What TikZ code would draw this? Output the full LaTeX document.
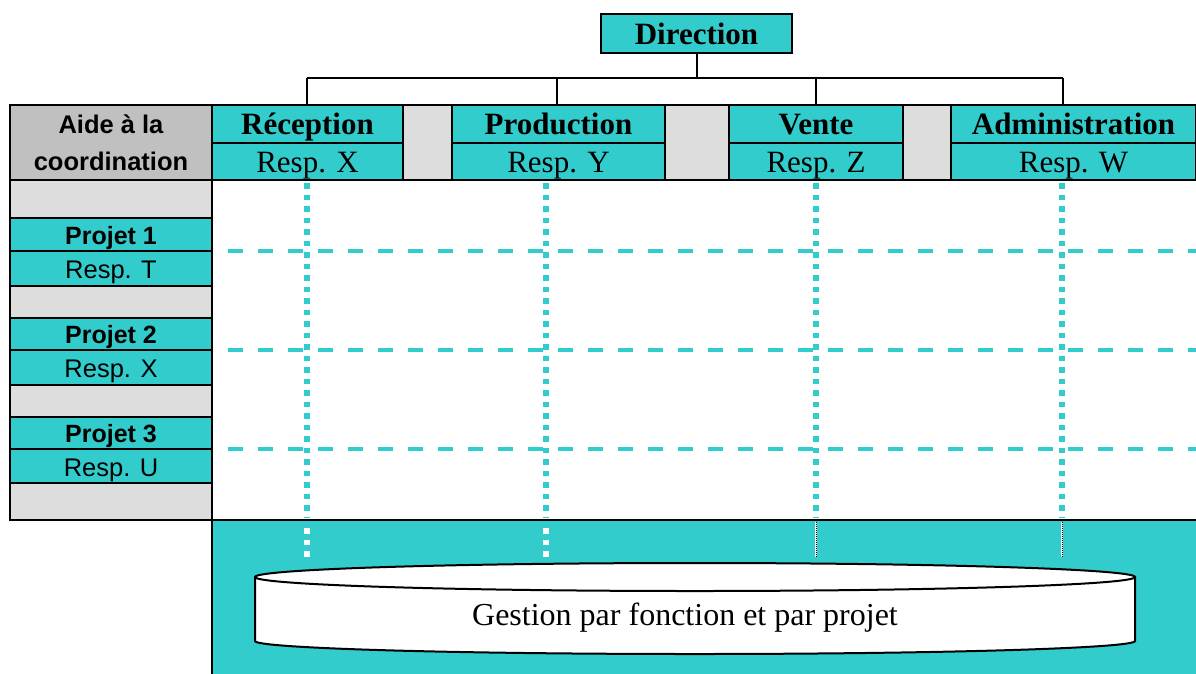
\documentclass[tikz,border=0pt]{standalone}
\usepackage{fontspec}
\setmainfont{Liberation Serif}
\newfontfamily\arialf{Liberation Sans}
\newcommand\fhd{\fontsize{31}{37}\selectfont\bfseries}
\newcommand\frs{\fontsize{31}{37}\selectfont}
\newcommand\fgest{\fontsize{32}{37}\selectfont}
\newcommand\fpj{\arialf\fontsize{25}{28}\selectfont\bfseries}
\newcommand\fpr{\arialf\fontsize{25.5}{28}\selectfont}
\newcommand\faide{\arialf\bfseries\fontsize{25.5}{37}\selectfont}
\definecolor{tealc}{HTML}{33CCCC}
\definecolor{grayc}{HTML}{C0C0C0}
\definecolor{lgrayc}{HTML}{DDDDDD}
\tikzset{
  cellbase/.style={draw=black, line width=2.5pt, inner sep=0pt, outer sep=0pt, anchor=north west},
  tealcell/.style={cellbase, fill=tealc},
  hdcell/.style={tealcell, text height=21pt, text depth=0pt},
  pjcell/.style={tealcell, text height=19pt, text depth=0pt},
  prcell/.style={tealcell, text height=20pt, text depth=0pt},
  graycell/.style={cellbase, fill=grayc},
  lgraycell/.style={cellbase, fill=lgrayc},
  treeline/.style={draw=black, line width=2pt},
  dashline/.style={draw=tealc, line width=4pt, dash pattern=on 15pt off 15pt},
  dotline/.style={draw=tealc, line width=6.5pt, dash pattern=on 5.5pt off 6pt},
  wdotline/.style={draw=white, line width=6.5pt, dash pattern=on 5.5pt off 6pt},
  bdotline/.style={draw=black, line width=1pt, dash pattern=on 1pt off 1pt},
}
\begin{document}
\begin{tikzpicture}[x=1pt,y=-1pt]
\useasboundingbox (0,0) rectangle (1196,673);
% Direction
\node[hdcell, minimum width=191pt, minimum height=39pt] (dir) at (601,14) {\fhd Direction};
% header row
\node[graycell, minimum width=202pt, minimum height=75pt, align=center, font=\faide] (aide) at (10,105) {Aide à la\\coordination};
\node[hdcell, minimum width=191pt, minimum height=38pt] (rec) at (212,105) {\fhd Réception};
\node[hdcell, minimum width=191pt, minimum height=37pt] (recr) at (212,143) {\frs Resp. X};
\node[lgraycell, minimum width=49pt, minimum height=75pt] (g1) at (403,105) {};
\node[hdcell, minimum width=213pt, minimum height=38pt] (pro) at (452,105) {\fhd Production};
\node[hdcell, minimum width=213pt, minimum height=37pt] (pror) at (452,143) {\frs Resp. Y};
\node[lgraycell, minimum width=64pt, minimum height=75pt] (g2) at (665,105) {};
\node[hdcell, minimum width=174pt, minimum height=38pt] (ven) at (729,105) {\fhd Vente};
\node[hdcell, minimum width=174pt, minimum height=37pt] (venr) at (729,143) {\frs Resp. Z};
\node[lgraycell, minimum width=48pt, minimum height=75pt] (g3) at (903,105) {};
\node[hdcell, minimum width=245pt, minimum height=38pt] (adm) at (951,105) {\fhd Administration};
\node[hdcell, minimum width=245pt, minimum height=37pt] (admr) at (951,143) {\frs Resp. W};
\draw[draw=black, line width=2.5pt] (1196,105) -- (1200,105) (1196,180) -- (1200,180);
% tree
\coordinate (hl) at (307,78);
\coordinate (hr) at (1063,78);
\coordinate (hm) at (dir.south |- hl);
\draw[treeline] (dir.south) -- (hm);
\draw[treeline] (hl) -- (hr);
\draw[treeline] (hl) -- (307,105);
\draw[treeline] (557,78) -- (557,105);
\draw[treeline] (816,78) -- (816,105);
\draw[treeline] (hr) -- (1063,105);
% left column
\node[lgraycell, minimum width=202pt, minimum height=38pt] (l0) at (10,180) {};
\node[pjcell, minimum width=202pt, minimum height=33pt] (p1) at (10,218) {\fpj Projet 1};
\node[prcell, minimum width=202pt, minimum height=35pt] (r1) at (10,251) {\fpr Resp. T};
\node[lgraycell, minimum width=202pt, minimum height=32pt] (l1) at (10,286) {};
\node[pjcell, minimum width=202pt, minimum height=32pt] (p2) at (10,318) {\fpj Projet 2};
\node[prcell, minimum width=202pt, minimum height=35pt] (r2) at (10,350) {\fpr Resp. X};
\node[lgraycell, minimum width=202pt, minimum height=32pt] (l2) at (10,385) {};
\node[pjcell, minimum width=202pt, minimum height=32pt] (p3) at (10,417) {\fpj Projet 3};
\node[prcell, minimum width=202pt, minimum height=34pt] (r3) at (10,449) {\fpr Resp. U};
\node[lgraycell, minimum width=202pt, minimum height=37pt] (l3) at (10,483) {};
% grid lines
\draw[dashline] (228,251) -- (1200,251);
\draw[dashline] (228,350) -- (1200,350);
\draw[dashline] (228,449) -- (1200,449);
\draw[dotline] (307,183) -- (307,518);
\draw[dotline] (546,183) -- (546,518);
\draw[dotline] (816,183) -- (816,518);
\draw[dotline] (1062,183) -- (1062,518);
% bottom region
\node[tealcell, minimum width=990pt, minimum height=160pt] (bot) at (212,520) {};
\draw[wdotline] (307,528) -- (307,557);
\draw[wdotline] (546,528) -- (546,557);
\draw[draw=white, line width=1.5pt] (816,522) -- (816,557) (1062,522) -- (1062,557);
\draw[bdotline] (816,522) -- (816,557);
\draw[bdotline] (1062,522) -- (1062,557);
% cylinder
\draw[fill=white, line width=2pt] (255,577) -- (255,641)
  arc[start angle=180, end angle=360, x radius=440pt, y radius=13pt]
  -- (1135,577)
  arc[start angle=0, end angle=180, x radius=440pt, y radius=14pt] -- cycle;
\draw[line width=2pt] (255,577) arc[start angle=180, end angle=360, x radius=440pt, y radius=14pt];
\node[inner sep=0pt, anchor=base] (gest) at (685,625) {\fgest Gestion par fonction et par projet};
\end{tikzpicture}
\end{document}
